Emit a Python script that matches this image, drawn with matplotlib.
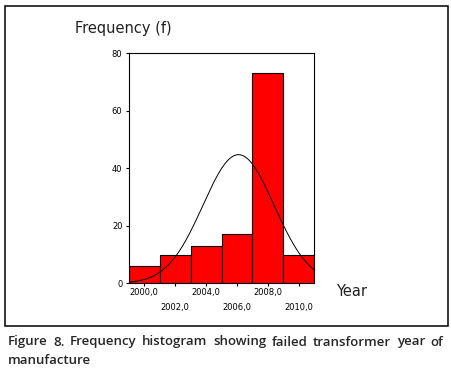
import numpy as np
import matplotlib
matplotlib.use('Agg')
import matplotlib.pyplot as plt
from matplotlib.patches import Rectangle

# data
years = [2000, 2002, 2004, 2006, 2008, 2010]
counts = [6, 10, 13, 17, 73, 10]
tick_labels = ['2000,0', '2002,0', '2004,0', '2006,0', '2008,0', '2010,0']
curve_mean = 2006.1   # normal curve parameters (estimated)
curve_sd = 2.3
bin_width = 2

caption = 'Figure 8. Frequency histogram showing failed transformer year of'
caption2 = 'manufacture'

fig = plt.figure(figsize=(4.52, 3.70), dpi=100)
ax = fig.add_axes([0.2847, 0.2343, 0.4107, 0.6216])

ax.bar(years, counts, width=bin_width, color='#ff0000', edgecolor='black', linewidth=0.8)

n = sum(counts)
xs = np.linspace(years[0] - bin_width / 2, years[-1] + bin_width / 2, 300)
ys = n * bin_width / (curve_sd * np.sqrt(2 * np.pi)) * np.exp(-0.5 * ((xs - curve_mean) / curve_sd) ** 2)
ax.plot(xs, ys, color='black', linewidth=0.7)

ax.set_xlim(years[0] - bin_width / 2, years[-1] + bin_width / 2)
ax.set_ylim(0, 80)
ax.set_yticks([0, 20, 40, 60, 80])
ax.set_xticks(years)
ax.set_xticklabels([])
ax.tick_params(axis='both', direction='out', length=2.5, width=0.8, labelsize=6)
ax.tick_params(axis='y', pad=2)
for s in ax.spines.values():
    s.set_linewidth(0.8)

# staggered x tick labels
for i, (yr, lab) in enumerate(zip(years, tick_labels)):
    off = -9 if i % 2 == 0 else -24
    ax.annotate(lab, (yr, 0), xytext=(0, off), textcoords='offset pixels',
                ha='center', va='center', fontsize=6, annotation_clip=False)

fig.text(75 / 452, 1 - 28 / 370, 'Frequency (f)', fontsize=10.5, va='center', ha='left', color='#222222')
fig.text(336 / 452, 1 - 291 / 370, 'Year', fontsize=10.5, va='center', ha='left', color='#222222')

# outer frame
fig.add_artist(Rectangle((5 / 452, 1 - 326 / 370), 443 / 452, 320 / 370, transform=fig.transFigure,
                         fill=False, edgecolor='black', linewidth=1.1))

# justified caption
words = caption.split(' ')
cap_font = dict(fontsize=9.5, family='Open Sans', weight='semibold', color='#262626')
left, right = 8, 443
renderer = fig.canvas.get_renderer()
objs = [fig.text(0, 1 - 342 / 370, w, va='center', ha='left', **cap_font) for w in words]
widths = [o.get_window_extent(renderer).width for o in objs]
gap = (right - left - sum(widths)) / (len(words) - 1)
x = left
for o, w in zip(objs, widths):
    o.set_x(x / 452)
    x += w + gap
fig.text(left / 452, 1 - 360 / 370, caption2, va='center', ha='left', **cap_font)

fig.savefig('out.png', dpi=100)
